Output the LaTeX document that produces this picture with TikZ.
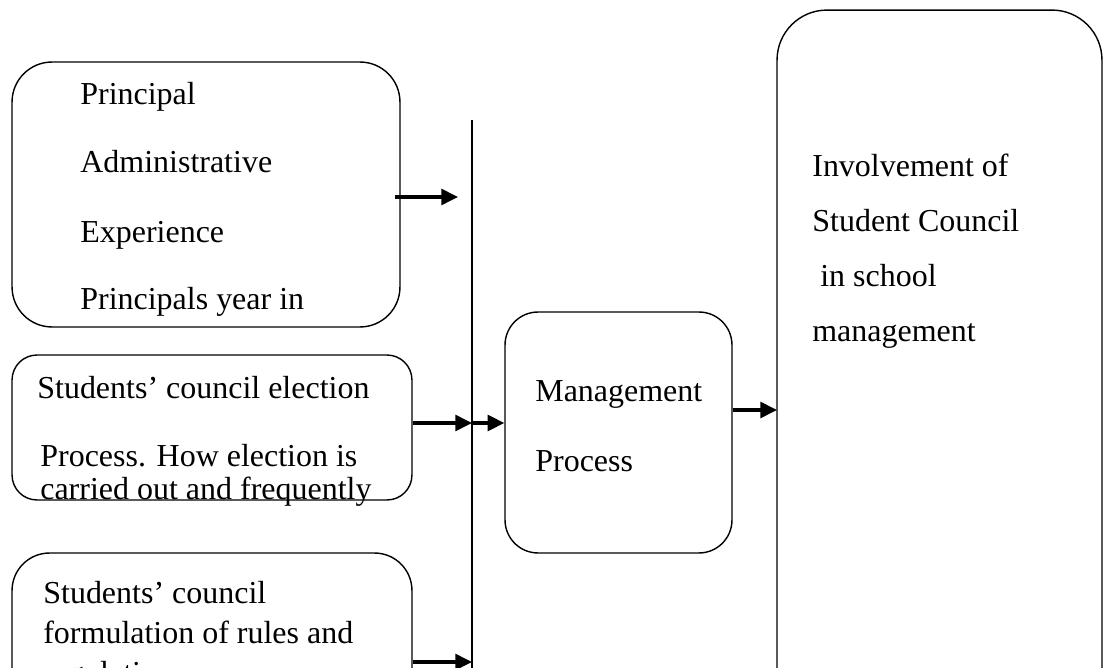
\documentclass[tikz,border=0pt]{standalone}
\usepackage{fontspec}
\setmainfont{Liberation Serif}
\usetikzlibrary{arrows.meta}
\tikzset{
  box/.style={draw, line width=0.8pt, inner sep=0pt},
  txt/.style={anchor=base west, inner sep=0pt, font=\fontsize{18.2}{20}\selectfont},
  feed/.style={line width=1.9pt, -{Triangle[length=9.5pt,width=9pt]}}
}
\begin{document}
\begin{tikzpicture}[x=0.02cm, y=-0.02cm]
  \useasboundingbox (0,0) rectangle (1105,668);
  % boxes
  \node[box, rounded corners=0.8cm, minimum width=7.76cm, minimum height=5.3cm] (prin) at (206,194.5) {};
  \node[box, rounded corners=0.5cm, minimum width=8cm, minimum height=2.9cm] (elect) at (212,427.5) {};
  \node[box, rounded corners=0.75cm, minimum width=8cm, minimum height=4.14cm] (rules) at (212,656.5) {};
  \node[box, rounded corners=0.66cm, minimum width=4.54cm, minimum height=4.82cm] (mgmt) at (618.5,432.5) {};
  \node[box, rounded corners=1cm, minimum width=6.5cm, minimum height=14.6cm] (inv) at (939.5,375) {};
  % texts
  \node[txt] (p1) at (80,105) {Principal};
  \node[txt] (p2) at (80,173) {Administrative};
  \node[txt] (p3) at (80,243) {Experience};
  \node[txt] (p4) at (80,310) {Principals year in};
  \node[txt] (e1) at (37,399) {Students’ council election};
  \node[txt] (e2) at (40,467) {Process. How election is};
  \node[txt] (e3) at (40,500) {carried out and frequently};
  \node[txt] (r1) at (43,603) {Students’ council};
  \node[txt] (r2) at (43,643) {formulation of rules and};
  \node[txt] (r3) at (43,683) {regulations};
  \node[txt] (m1) at (535,402) {Management};
  \node[txt] (m2) at (535,472) {Process};
  \node[txt] (i1) at (812,177) {Involvement of};
  \node[txt] (i2) at (812,232) {Student Council};
  \node[txt] (i3) at (812,287) {\ in school};
  \node[txt] (i4) at (812,342) {management};
  % bus line
  \coordinate (busTop) at (472,120);
  \coordinate (busBot) at (472,700);
  \draw[line width=0.8pt] (busTop) -- (busBot);
  % arrows
  \coordinate (a1) at (458,197);
  \coordinate (a2) at (472,423);
  \coordinate (a3) at (777,410);
  \coordinate (a4) at (472,662);
  \begin{scope}[feed]
    \draw ([xshift=-3] prin.east |- a1) -- (a1);
    \draw (elect.east |- a2) -- (a2);
    \draw (a2) -- (mgmt.west |- a2);
    \draw (mgmt.east |- a3) -- (a3);
    \draw (rules.east |- a4) -- (a4);
  \end{scope}
\end{tikzpicture}
\end{document}
